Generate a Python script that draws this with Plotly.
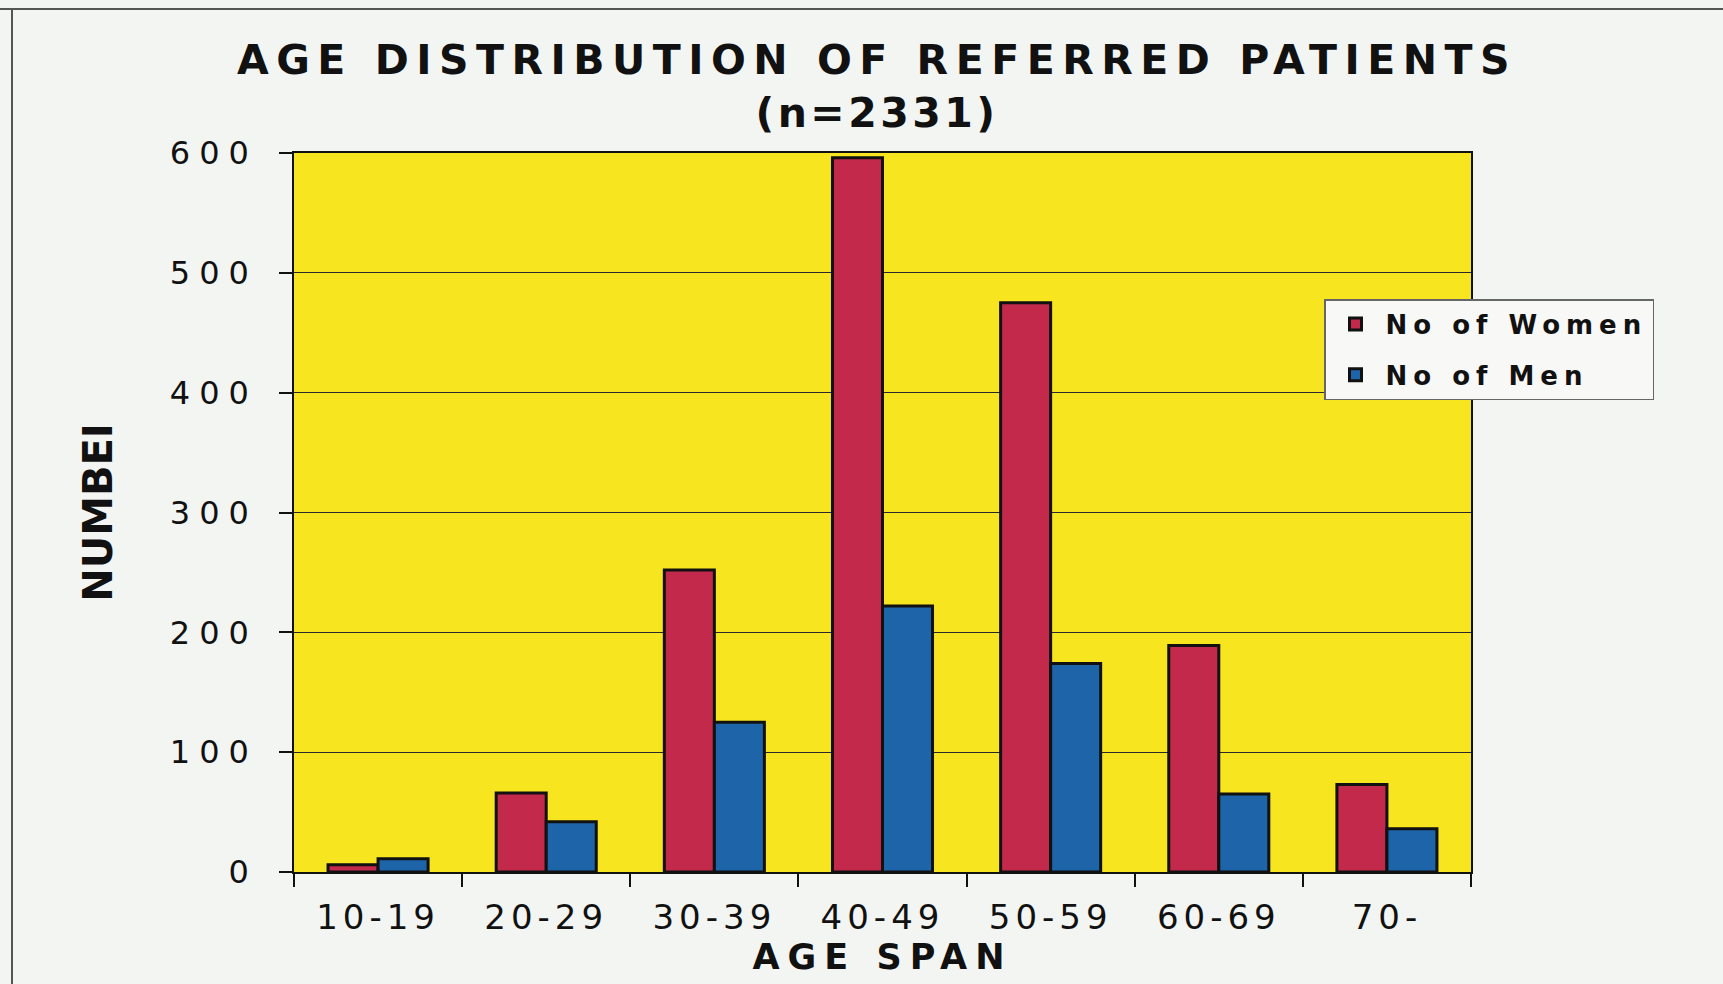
import plotly.graph_objects as go

# Age groups and patient counts
age_spans = ["10-19", "20-29", "30-39", "40-49", "50-59", "60-69", "70-"]
women = [6, 66, 252, 596, 475, 189, 73]
men = [11, 42, 125, 222, 174, 65, 36]
y_ticks = [0, 100, 200, 300, 400, 500, 600]

W, H = 1723, 984
ML, MR, MT, MB = 294, 252, 153, 112
PW, PH = W - ML - MR, H - MT - MB

FONT = "DejaVu Sans"
INK = "#111111"


def spaced(txt, px):
    return f"<span style='letter-spacing:{px}px'>{txt}</span>"


def px_x(px):
    return (px - ML) / PW


def px_y(py):
    return (H - MB - py) / PH


fig = go.Figure()
fig.add_trace(go.Bar(
    x=age_spans, y=women, name=spaced("No of Women", 6), legendgroup="w",
    marker=dict(color="#C2294B", line=dict(color="#111111", width=3)),
))
fig.add_trace(go.Bar(
    x=age_spans, y=men, name=spaced("No of Men", 6), legendgroup="m",
    marker=dict(color="#1D64A8", line=dict(color="#111111", width=3)),
))

fig.update_layout(
    width=W, height=H,
    margin=dict(l=ML, r=MR, t=MT, b=MB),
    paper_bgcolor="#F3F5F3",
    plot_bgcolor="#F7E51F",
    barmode="group", bargap=0.405, bargroupgap=0,
    font=dict(family=FONT, color=INK),
    title=dict(
        text=spaced("AGE DISTRIBUTION OF REFERRED PATIENTS", 7.5) + "<br>" + spaced("(n=2331)", 3.5),
        x=877 / W, xanchor="center",
        y=1 - 74 / H, yanchor="middle", yref="container",
        font=dict(family=FONT, size=41, weight="bold", color="#111111"),
    ),
    legend=dict(
        x=px_x(1324), y=px_y(299), xanchor="left", yanchor="top",
        bgcolor="#F8F8F6", bordercolor="#666666", borderwidth=1.5,
        font=dict(family=FONT, size=26, weight="bold", color="#111111"),
        traceorder="grouped", tracegroupgap=14, itemwidth=50,
    ),
    showlegend=True,
)

fig.update_xaxes(
    type="category",
    tickmode="array", tickvals=age_spans, ticktext=[spaced(a, 5) for a in age_spans],
    tickson="boundaries", ticks="outside", ticklen=13, tickwidth=1.5, tickcolor=INK,
    showline=True, linecolor=INK, linewidth=1.5, mirror=True,
    showgrid=False,
    tickfont=dict(family=FONT, size=34, color=INK),
    ticklabelstandoff=14,
    title=dict(text=spaced("AGE SPAN", 8), standoff=3,
               font=dict(family=FONT, size=35, weight="bold", color="#111111")),
)

fig.update_yaxes(
    range=[0, 600],
    tickmode="array", tickvals=y_ticks, ticktext=[spaced(str(v), 9) for v in y_ticks],
    ticks="outside", ticklen=13, tickwidth=1.5, tickcolor=INK,
    showline=True, linecolor=INK, linewidth=1.5, mirror=True,
    showgrid=True, gridcolor="#2a2a2a", gridwidth=1.3,
    zeroline=False,
    tickfont=dict(family=FONT, size=32, color=INK),
    ticklabelstandoff=15,
    title=dict(text="NUMBEI", standoff=45,
               font=dict(family=FONT, size=40, weight="bold", color="#111111")),
)

# Page frame lines along the top and left edges
fig.add_shape(type="line", xref="paper", yref="paper",
              x0=px_x(0), x1=px_x(W), y0=px_y(9), y1=px_y(9),
              line=dict(color="#555555", width=2))
fig.add_shape(type="line", xref="paper", yref="paper",
              x0=px_x(12), x1=px_x(12), y0=px_y(9), y1=px_y(H),
              line=dict(color="#555555", width=2))

fig.write_html("out.html")
